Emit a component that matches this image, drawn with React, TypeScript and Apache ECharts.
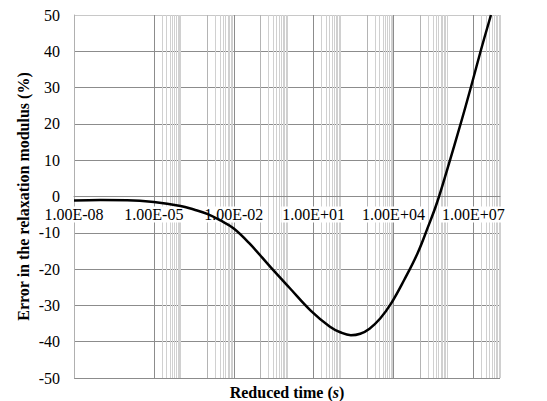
import React, { useEffect, useRef } from "react";
import * as echarts from "echarts";

// Curve: error in the relaxation modulus (%) vs reduced time (s)
const reducedTime = [
  1e-8, 1e-7, 1e-6, 1e-5, 1e-4, 3.16e-4, 1e-3, 3.16e-3, 1e-2, 3.98e-2, 0.251,
  1.26, 7.94, 39.8, 100, 251, 562, 1259, 3162, 7943, 25119, 79433, 199526,
  416869, 1e6, 3630781, 8709636, 19498446, 45708819,
];
const errorPct = [
  -1.1, -0.95, -1.0, -1.5, -2.6, -3.6, -4.8, -6.6, -8.8, -13.0, -19.6, -25.2,
  -31.5, -35.8, -37.4, -38.2, -37.8, -36.4, -33.6, -29.6, -23.0, -15.7, -8.3,
  -2.0, 7.0, 21, 31, 40.5, 50,
];

// Y axis range
const yMin = -50;
const yMax = 50;
const yStep = 10;

// X tick labels (every third decade)
const xTickValues = [1e-8, 1e-5, 1e-2, 1e1, 1e4, 1e7];
const xTickLabels = ["1.00E-08", "1.00E-05", "1.00E-02", "1.00E+01", "1.00E+04", "1.00E+07"];

// Minor gridline decades (groups of 1..9 x 10^n, closed by 10^(n+1)) and multipliers
const minorDecades = [-5, -3, -1, 1, 3, 5, 7];
const minorMultipliers = [2, 3, 4, 5, 6, 7, 8, 9, 10];

const FONT = "'Liberation Serif', 'Times New Roman', serif";

export default function App() {
  const ref = useRef<HTMLDivElement>(null);

  useEffect(() => {
    if (!ref.current) return;
    const chart = echarts.init(ref.current, undefined, { renderer: "svg" });

    const majorColor = "#8c8c8c";
    const startColor = "#b4b4b4";
    const minorColor = "#d0d0d0";

    const gridTop = 15;
    const gridBottom = 23;
    const gridHeight = 401 - gridTop - gridBottom;
    // move the x axis up to y = 0 (Excel style crossing)
    const xAxisOffset = -gridHeight * ((0 - yMin) / (yMax - yMin));

    const vLine = (v: number, color: string) => ({
      coords: [
        [v, yMin],
        [v, yMax],
      ],
      lineStyle: { color },
    });

    const minorLines: any[] = [];
    minorDecades.forEach((n) => {
      minorLines.push(vLine(Math.pow(10, n), startColor));
      minorMultipliers.forEach((k) => {
        minorLines.push(vLine(k * Math.pow(10, n), minorColor));
      });
    });
    const majorLines = xTickValues.slice(1).map((v) => vLine(v, majorColor));

    const ySplitColors: string[] = [];
    for (let v = yMin; v <= yMax; v += yStep) ySplitColors.push(v === yMax ? "#c8c8c8" : majorColor);

    chart.setOption({
      animation: false,
      backgroundColor: "#ffffff",
      grid: { left: 74, right: 47, top: gridTop, bottom: gridBottom, containLabel: false },
      xAxis: {
        type: "log",
        logBase: 10,
        min: 1e-8,
        max: 1e8,
        interval: 3,
        position: "bottom",
        offset: xAxisOffset,
        z: 3,
        axisLine: { onZero: false, lineStyle: { color: majorColor, width: 1 } },
        axisTick: { show: false },
        splitLine: { show: false },
        minorSplitLine: { show: false },
        axisLabel: {
          margin: 10,
          fontFamily: FONT,
          fontSize: 16,
          color: "#000",
          backgroundColor: "#ffffff",
          padding: [0, 1],
          showMaxLabel: false,
          formatter: (v: number) => {
            const lv = Math.log10(v);
            for (let i = 0; i < xTickValues.length; i++) {
              if (Math.abs(lv - Math.log10(xTickValues[i])) < 1e-6) return xTickLabels[i];
            }
            return "";
          },
        },
      },
      yAxis: {
        type: "value",
        min: yMin,
        max: yMax,
        interval: yStep,
        name: "Error in the relaxation modulus (%)",
        nameLocation: "middle",
        nameGap: 43,
        nameMoveOverlap: false,
        nameTextStyle: { fontFamily: FONT, fontSize: 16, fontWeight: "bold", color: "#000" },
        axisLine: { show: true, lineStyle: { color: "#b0b0b0", width: 1 } },
        axisTick: { show: false },
        splitLine: { show: true, lineStyle: { color: ySplitColors, width: 1 } },
        axisLabel: { margin: 14, fontFamily: FONT, fontSize: 16, color: "#000" },
      },
      graphic: [
        {
          type: "text",
          x: 287,
          y: 392,
          style: {
            text: "{a|Reduced time (}{b|s}{a|)}",
            align: "center",
            verticalAlign: "middle",
            rich: {
              a: { fontFamily: FONT, fontSize: 16, fontWeight: "bold", fill: "#000" },
              b: { fontFamily: FONT, fontSize: 16, fontWeight: "bold", fontStyle: "italic", fill: "#000" },
            },
          },
        },
      ],
      series: [
        {
          type: "lines",
          coordinateSystem: "cartesian2d",
          silent: true,
          z: 1,
          lineStyle: { width: 1, opacity: 1, curveness: 0 },
          data: minorLines,
        },
        {
          type: "lines",
          coordinateSystem: "cartesian2d",
          silent: true,
          z: 2,
          lineStyle: { width: 1, opacity: 1, curveness: 0 },
          data: majorLines,
        },
        {
          type: "line",
          z: 5,
          data: reducedTime.map((t, i) => [t, errorPct[i]]),
          smooth: 0.4,
          showSymbol: false,
          symbol: "none",
          lineStyle: { color: "#000", width: 2.5 },
          clip: true,
        },
      ],
    });

    return () => chart.dispose();
  }, []);

  return (
    <div
      ref={ref}
      style={{ position: "absolute", left: 0, top: 0, width: 547, height: 401 }}
    />
  );
}
